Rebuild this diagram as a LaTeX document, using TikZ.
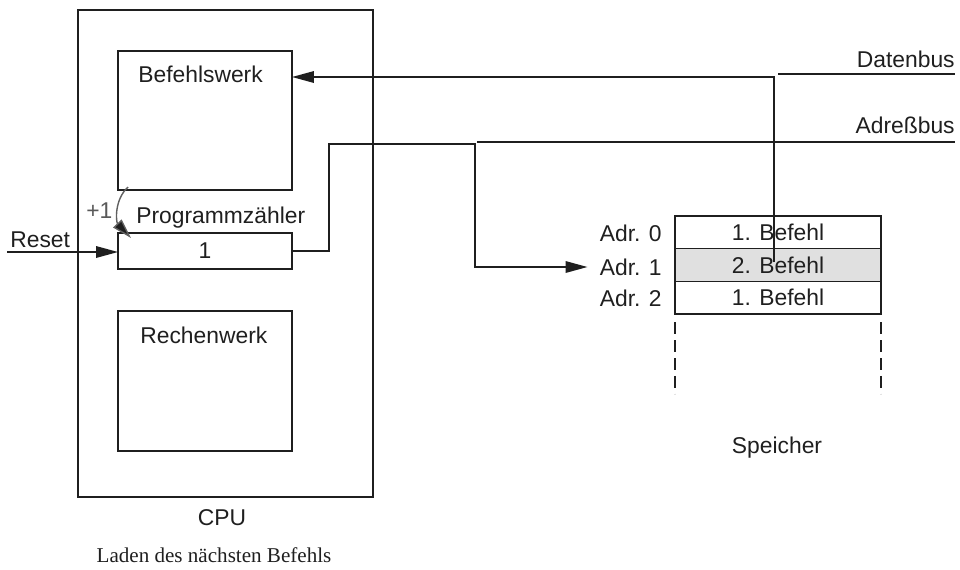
\documentclass[tikz,border=0pt]{standalone}
\usepackage{fontspec}
\setmainfont{Liberation Sans}
\newfontfamily\captionserif{Liberation Serif}
\usetikzlibrary{arrows.meta}

\definecolor{ink}{gray}{0.12}
\definecolor{cellshade}{gray}{0.88}

\tikzset{
  unit/.style={draw=ink, line width=0.8pt, inner sep=0pt, outer sep=0pt},
  txt/.style={text=ink, font=\fontsize{13}{15}\selectfont, inner sep=0pt},
  wire/.style={draw=ink, line width=1pt},
  buswire/.style={draw=ink, line width=0.7pt},
  headed/.style={-{Triangle[length=4.4mm, width=2.3mm]}},
  cell/.style={unit, minimum width=4.12cm, minimum height=0.6533cm, txt},
  rowside/.style={draw=ink, line width=0.8pt, dash pattern=on 0.24cm off 0.12cm},
}

\begin{document}
\begin{tikzpicture}[x=0.02cm, y=-0.02cm]
  \useasboundingbox (0,0) rectangle (960,569);

  % CPU with its three units
  \node[unit, minimum width=5.9cm, minimum height=9.74cm] (cpu) at (225.5,253.5) {};
  \node[unit, minimum width=3.48cm, minimum height=2.78cm] (bw) at (205,120.5) {};
  \node[unit, minimum width=3.48cm, minimum height=0.72cm, txt] (pc) at (205,251) {1};
  \node[unit, minimum width=3.48cm, minimum height=2.8cm] (rw) at (205,381) {};

  \node[txt, anchor=base west] (bwlabel) at (138,82) {Befehlswerk};
  \node[txt, anchor=base west] (rwlabel) at (140,343) {Rechenwerk};
  \node[txt, anchor=base west] (pclabel) at (136,223) {Programmzähler};
  \node[txt, anchor=base west, text=gray!70!black] (inc) at (86,218) {+1};
  \node[txt, anchor=base] (cpulabel) at (222,525) {CPU};

  % increment of the program counter
  \coordinate (inc-from) at (128,187);
  \coordinate (inc-to) at (131,238);
  \draw[draw=gray!75!black, line width=0.8pt, -{Triangle[length=4mm, width=2.3mm, fill=ink]}]
    (inc-from) .. controls (114,200) and (116,222) .. (inc-to);

  % reset input
  \coordinate (reset-in) at (7,252);
  \node[txt, anchor=base west] (resetlabel) at (10,247) {Reset};
  \draw[wire, headed] (reset-in) -- (pc.west |- reset-in);

  % memory
  \node[cell] (m0) at (778,232.33) {1. Befehl};
  \node[cell, fill=cellshade] (m1) at (778,265) {2. Befehl};
  \node[cell] (m2) at (778,297.67) {1. Befehl};
  \draw[rowside] ([yshift=-0.16cm]m2.south west) -- ++(0,-1.44cm);
  \draw[rowside] ([yshift=-0.16cm]m2.south east) -- ++(0,-1.44cm);

  \node[txt, anchor=east] (a0) at (662,233) {Adr. 0};
  \node[txt, anchor=east] (a1) at (662,267) {Adr. 1};
  \node[txt, anchor=east] (a2) at (662,298) {Adr. 2};
  \node[txt, anchor=base] (speicher) at (777,453) {Speicher};

  % buses
  \coordinate (db-w) at (778,74);
  \coordinate (db-e) at (955,74);
  \coordinate (ab-w) at (477,142);
  \coordinate (ab-e) at (955,142);
  \draw[buswire] (db-w) -- (db-e);
  \draw[buswire] (ab-w) -- (ab-e);
  \node[txt, anchor=base east] (dblabel) at (955,67) {Datenbus};
  \node[txt, anchor=base east] (ablabel) at (955,133) {Adreßbus};

  % address from the program counter to the memory
  \draw[wire, headed] (pc.east) -- (329,251) -- (329,144) -- (475,144) |- ([xshift=-0.24cm]a1.west);

  % fetched instruction back to the instruction unit
  \coordinate (db-tap) at (774,262);
  \draw[wire, headed] (db-tap) -- (774,77) -- (bw.east |- 0,77);

  % caption
  \node[anchor=base, text=ink, inner sep=0pt, font=\captionserif\fontsize{12}{14}\selectfont] (caption) at (214,562) {Laden des nächsten Befehls};
\end{tikzpicture}
\end{document}
